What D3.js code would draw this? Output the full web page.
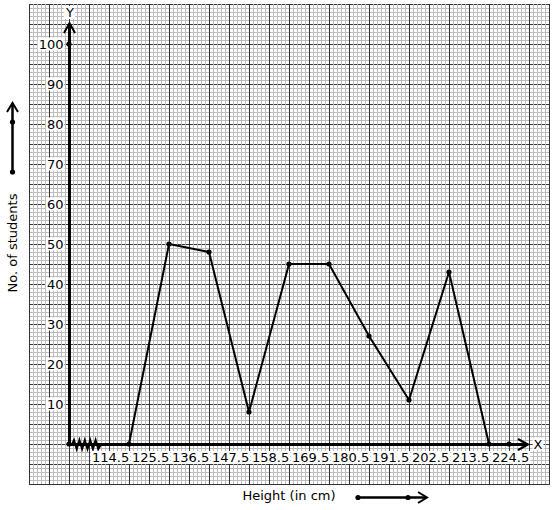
<!DOCTYPE html>
<html><head><meta charset="utf-8">
<script src="https://cdn.jsdelivr.net/npm/d3@7"></script>
<style>body{margin:0;background:#fff}svg{display:block}</style>
</head><body>
<script>
// ---- data ----
const heights = [125.5, 136.5, 147.5, 158.5, 169.5, 180.5, 191.5, 202.5, 213.5, 224.5];
const students = [0, 50, 48, 8, 45, 45, 27, 11, 43, 0];
const xTickValues = [114.5, 125.5, 136.5, 147.5, 158.5, 169.5, 180.5, 191.5, 202.5, 213.5, 224.5];
const xTickLabels = ["114.5","125.5","136.5","147.5","158.5","169.5","180.5","191.5","202.5","213.5","224.5"];
const yTickValues = [10, 20, 30, 40, 50, 60, 70, 80, 90, 100];
const extraXPoint = 230;

const W = 554, H = 510;
const svg = d3.select("body").append("svg").attr("width", W).attr("height", H);
svg.append("rect").attr("width", W).attr("height", H).attr("fill", "#fff");

const x = d3.scaleLinear().domain([114.5, 224.5]).range([89, 489]);
const y = d3.scaleLinear().domain([0, 100]).range([444, 44]);
const axisX = 69, axisY = y(0);
const gx0 = 29, gx1 = 549, gy0 = 4, gy1 = 484;
const font = "DejaVu Sans, sans-serif";

// ---- graph paper ----
const g = svg.append("g");
const minorC = "#bcbcbc", majorC = "#333";
for (let yy = gy0; yy <= gy1; yy += 4) if ((yy - gy0) % 20) g.append("line").attr("x1", gx0).attr("x2", gx1).attr("y1", yy + .5).attr("y2", yy + .5).attr("stroke", minorC);
for (let yy = gy0; yy <= gy1; yy += 20) g.append("line").attr("x1", gx0).attr("x2", gx1 + 1).attr("y1", yy + .5).attr("y2", yy + .5).attr("stroke", majorC);
for (let xx = gx0; xx <= gx1; xx += 4) if ((xx - gx0) % 20) g.append("line").attr("y1", gy0).attr("y2", gy1).attr("x1", xx + .5).attr("x2", xx + .5).attr("stroke", minorC);
for (let xx = gx0; xx <= gx1; xx += 20) g.append("line").attr("y1", gy0).attr("y2", gy1 + 1).attr("x1", xx + .5).attr("x2", xx + .5).attr("stroke", majorC);

function labelWithBg(parent, t, px, py, anchor) {
  const txt = parent.append("text").attr("x", px).attr("y", py).attr("text-anchor", anchor)
    .attr("font-family", font).attr("font-size", 13).attr("fill", "#000").text(t);
  const bb = txt.node().getBBox();
  parent.insert("rect", () => txt.node()).attr("x", bb.x - 1).attr("y", bb.y + 1).attr("width", bb.width + 2).attr("height", bb.height - 2).attr("fill", "#fff");
  return txt;
}

// ---- axes ----
const ax = svg.append("g");
ax.append("line").attr("x1", axisX + .5).attr("x2", axisX + .5).attr("y1", axisY).attr("y2", 24).attr("stroke", "#000").attr("stroke-width", 3);
ax.append("path").attr("d", `M${axisX - 5},${33} L${axisX + .5},${23} L${axisX + 6},${33}`).attr("fill", "none").attr("stroke", "#000").attr("stroke-width", 2);
ax.append("line").attr("x1", axisX).attr("x2", 527).attr("y1", axisY + .5).attr("y2", axisY + .5).attr("stroke", "#000").attr("stroke-width", 3);
ax.append("path").attr("d", `M518,${axisY - 5} L528,${axisY + .5} L518,${axisY + 6}`).attr("fill", "none").attr("stroke", "#000").attr("stroke-width", 2);
// zigzag (axis break)
let zz = `M${axisX + 3},${axisY + .5}`;
for (let i = 0; i < 10; i++) zz += ` L${axisX + 5 + i * 2.7},${axisY + (i % 2 ? 5 : -4)}`;
zz += ` L${axisX + 32},${axisY + .5}`;
ax.append("path").attr("d", zz).attr("fill", "none").attr("stroke", "#000").attr("stroke-width", 2);

labelWithBg(svg, "Y", axisX + 1, 17, "middle");
labelWithBg(svg, "X", 538, axisY + 4.5, "middle");

// tick labels
yTickValues.forEach(v => labelWithBg(svg, String(v), 63.5, y(v) + 4.5, "end"));
xTickValues.forEach((v, i) => labelWithBg(svg, xTickLabels[i], x(v) + 3, 462, "start"));

// ---- data polygon ----
const pts = heights.map((h, i) => [x(h), y(students[i])]);
svg.append("path").attr("d", d3.line()(pts)).attr("fill", "none").attr("stroke", "#000").attr("stroke-width", 2).attr("stroke-linejoin", "round");
const dots = pts.concat([[axisX, y(0)], [axisX, y(100)], [x(extraXPoint), y(0)]]);
svg.selectAll("circle.d").data(dots).enter().append("circle").attr("cx", d => d[0]).attr("cy", d => d[1]).attr("r", 2.6).attr("fill", "#000");

// ---- axis titles ----
svg.append("text").attr("transform", "translate(17,243) rotate(-90)").attr("text-anchor", "middle")
  .attr("font-family", font).attr("font-size", 13).text("No. of students");
svg.append("text").attr("x", 289).attr("y", 500).attr("text-anchor", "middle")
  .attr("font-family", font).attr("font-size", 13).text("Height (in cm)");

// side arrows
svg.append("line").attr("x1", 12.5).attr("x2", 12.5).attr("y1", 172).attr("y2", 104).attr("stroke", "#000").attr("stroke-width", 2.5);
svg.append("path").attr("d", "M7,112 L12.5,103 L18,112").attr("fill", "none").attr("stroke", "#000").attr("stroke-width", 2);
svg.append("circle").attr("cx", 12.5).attr("cy", 172).attr("r", 2.6);
svg.append("circle").attr("cx", 12.5).attr("cy", 122).attr("r", 2.6);
svg.append("line").attr("x1", 358).attr("x2", 426).attr("y1", 497.5).attr("y2", 497.5).attr("stroke", "#000").attr("stroke-width", 2.5);
svg.append("path").attr("d", "M418,492 L427,497.5 L418,503").attr("fill", "none").attr("stroke", "#000").attr("stroke-width", 2);
svg.append("circle").attr("cx", 358).attr("cy", 497.5).attr("r", 2.6);
svg.append("circle").attr("cx", 408).attr("cy", 497.5).attr("r", 2.6);
</script>
</body></html>
